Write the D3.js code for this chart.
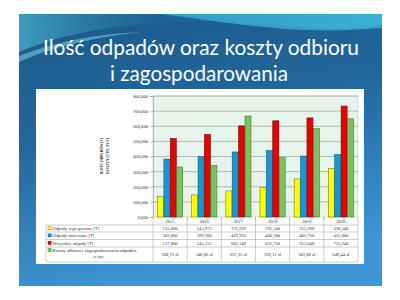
<!DOCTYPE html>
<html>
<head>
<meta charset="utf-8">
<script src="https://cdn.jsdelivr.net/npm/d3@7"></script>
<style>
  html, body { margin: 0; padding: 0; background: #fff; }
  svg { display: block; }
</style>
</head>
<body>
<div id="chart"></div>
<script>
// Chart data
const years = ["2015", "2016", "2017", "2018", "2019", "2020"];
const seriesNames = [
  "Odpady segregowane [T]",
  "Odpady zmieszane [T]",
  "Wszystkie odpady [T]",
  "Koszty odbioru i zagospodarowania odpadów"
];
const segregowane = [135.000, 145.975, 172.229, 195.540, 252.288, 320.540];
const zmieszane = [382.800, 399.180, 429.920, 440.180, 402.760, 412.800];
const wszystkie = [517.800, 545.155, 602.149, 635.720, 655.048, 733.340];
const koszty = [330.73, 340.06, 667.25, 392.11, 583.88, 649.44];
const yTicks = [0, 100, 200, 300, 400, 500, 600, 700, 800];

const colors = ["#ffff00", "#1399d6", "#e60000", "#79c25e"];
const strokes = ["#7d7d00", "#0a5b80", "#7a0000", "#3f7b2f"];

const allSeries = [segregowane, zmieszane, wszystkie, koszty];

const W = 400, H = 300;
const svg = d3.select("#chart").append("svg")
  .attr("width", W).attr("height", H);

const defs = svg.append("defs");
const bg = defs.append("linearGradient").attr("id", "bg")
  .attr("x1", 0).attr("y1", 0).attr("x2", 0.25).attr("y2", 1);
bg.append("stop").attr("offset", "0%").attr("stop-color", "#1b5a89");
bg.append("stop").attr("offset", "45%").attr("stop-color", "#22679b");
bg.append("stop").attr("offset", "100%").attr("stop-color", "#3d95d3");

const sw = defs.append("linearGradient").attr("id", "swoosh")
  .attr("x1", 0).attr("y1", 0).attr("x2", 1).attr("y2", 0);
sw.append("stop").attr("offset", "0%").attr("stop-color", "#5fe0ee").attr("stop-opacity", 0.9);
sw.append("stop").attr("offset", "40%").attr("stop-color", "#2b8fbf").attr("stop-opacity", 0.2);
sw.append("stop").attr("offset", "100%").attr("stop-color", "#3cc4e0").attr("stop-opacity", 0.9);

// Slide
const slide = { x: 19, y: 14, w: 363, h: 272 };
svg.append("rect")
  .attr("x", slide.x).attr("y", slide.y)
  .attr("width", slide.w).attr("height", slide.h)
  .attr("fill", "url(#bg)");

svg.append("clipPath").attr("id", "slideClip")
  .append("rect").attr("x", slide.x).attr("y", slide.y)
  .attr("width", slide.w).attr("height", slide.h);

const deco = svg.append("g").attr("clip-path", "url(#slideClip)");
deco.append("path")
  .attr("d", "M19,52 C70,30 150,18 230,22 C300,26 350,34 382,24 L382,14 L19,14 Z")
  .attr("fill", "url(#swoosh)").attr("opacity", 0.55);
deco.append("path")
  .attr("d", "M160,14 C230,22 290,36 382,28 L382,14 Z")
  .attr("fill", "#45c8e2").attr("opacity", 0.6);
deco.append("path")
  .attr("d", "M19,56 C60,40 100,34 140,32 C90,38 50,48 19,62 Z")
  .attr("fill", "#8ff0f5").attr("opacity", 0.45);

// Title
const title = svg.append("g").attr("fill", "#fff")
  .attr("font-family", "Lato, 'Open Sans', sans-serif")
  .attr("text-anchor", "middle");
title.append("text").attr("x", 201).attr("y", 55)
  .attr("font-size", 22)
  .attr("textLength", 316).attr("lengthAdjust", "spacingAndGlyphs")
  .text("Ilość odpadów oraz koszty odbioru");
title.append("text").attr("x", 199).attr("y", 81)
  .attr("font-size", 22)
  .attr("textLength", 178).attr("lengthAdjust", "spacingAndGlyphs")
  .text("i zagospodarowania");

// White chart box
svg.append("rect")
  .attr("x", 36).attr("y", 89).attr("width", 328).attr("height", 175)
  .attr("fill", "#fff");

// Plot area
const plot = { left: 153, right: 358, top: 96, bottom: 217 };

const x = d3.scaleBand()
  .domain(years)
  .range([plot.left, plot.right])
  .padding(0);

const xInner = d3.scaleBand()
  .domain(d3.range(allSeries.length))
  .range([4.5, x.bandwidth() - 4.5])
  .paddingInner(0.06);

const y = d3.scaleLinear()
  .domain([0, 800])
  .range([plot.bottom, plot.top]);

svg.append("rect")
  .attr("x", plot.left).attr("y", plot.top)
  .attr("width", plot.right - plot.left).attr("height", plot.bottom - plot.top)
  .attr("fill", "#e7f4ec").attr("stroke", "#b9c2bd").attr("stroke-width", 0.5);

const fmt3 = d => d.toFixed(3).replace(".", ",");
const fmt2 = d => d.toFixed(2).replace(".", ",") + " zł";

const yAxis = svg.append("g")
  .attr("transform", "translate(" + plot.left + ",0)")
  .call(d3.axisLeft(y).tickValues(yTicks).tickFormat(fmt3).tickSize(3).tickPadding(2));
yAxis.select(".domain").attr("stroke", "#8a8a8a").attr("stroke-width", 0.5);
yAxis.selectAll(".tick line").attr("stroke", "#8a8a8a").attr("stroke-width", 0.5);
yAxis.selectAll(".tick text")
  .attr("font-family", "'Liberation Serif', serif")
  .attr("font-size", 4.6).attr("fill", "#333");

// gridlines
svg.append("g").selectAll("line")
  .data(yTicks.filter(t => t > 0))
  .enter().append("line")
  .attr("x1", plot.left).attr("x2", plot.right)
  .attr("y1", d => y(d)).attr("y2", d => y(d))
  .attr("stroke", "#8f9591").attr("stroke-width", 0.6);

// vertical separators
svg.append("g").selectAll("line")
  .data(years.slice(1))
  .enter().append("line")
  .attr("x1", d => x(d)).attr("x2", d => x(d))
  .attr("y1", plot.bottom).attr("y2", plot.bottom + 3)
  .attr("stroke", "#8a8a8a").attr("stroke-width", 0.5);

// Bars
allSeries.forEach((values, si) => {
  svg.append("g").selectAll("rect")
    .data(values)
    .enter().append("rect")
    .attr("x", (d, i) => x(years[i]) + xInner(si))
    .attr("y", d => y(d))
    .attr("width", xInner.bandwidth())
    .attr("height", d => plot.bottom - y(d))
    .attr("fill", colors[si])
    .attr("stroke", strokes[si])
    .attr("stroke-width", 0.6);
});

// Axis title
const axTitle = svg.append("g")
  .attr("font-family", "'Liberation Serif', serif")
  .attr("font-weight", "bold")
  .attr("font-size", 4.8)
  .attr("fill", "#333")
  .attr("text-anchor", "middle");
axTitle.append("text")
  .attr("transform", "translate(103,156) rotate(-90)")
  .attr("textLength", 36).attr("lengthAdjust", "spacingAndGlyphs")
  .text("ILOŚĆ ODPADÓW [T]");
axTitle.append("text")
  .attr("transform", "translate(108.5,156) rotate(-90)")
  .attr("textLength", 36).attr("lengthAdjust", "spacingAndGlyphs")
  .text("KOSZTY [TYS. PLN]");

// Data table
const table = { left: 46, headerTop: 217, rowTops: [225, 232, 239.5, 247], bottom: 262 };
const gridColor = "#9a9a9a";
const tbl = svg.append("g")
  .attr("font-family", "'Liberation Serif', serif")
  .attr("font-size", 4.6).attr("fill", "#333");

// header year labels
tbl.selectAll(".year")
  .data(years)
  .enter().append("text")
  .attr("x", d => x(d) + x.bandwidth() / 2)
  .attr("y", 222.8)
  .attr("text-anchor", "middle")
  .text(d => d);

// horizontal lines
const hLines = table.rowTops.concat([table.bottom]);
tbl.selectAll(".hline")
  .data(hLines)
  .enter().append("line")
  .attr("x1", table.left).attr("x2", plot.right)
  .attr("y1", d => d).attr("y2", d => d)
  .attr("stroke", gridColor).attr("stroke-width", 0.5);

// vertical lines
const vLines = [plot.left].concat(years.map(yr => x(yr) + x.bandwidth()));
tbl.selectAll(".vline")
  .data(vLines)
  .enter().append("line")
  .attr("x1", d => d).attr("x2", d => d)
  .attr("y1", (d, i) => (i === 0 ? plot.bottom : table.headerTop))
  .attr("y2", table.bottom)
  .attr("stroke", gridColor).attr("stroke-width", 0.5);
tbl.append("line")
  .attr("x1", table.left).attr("x2", table.left)
  .attr("y1", table.rowTops[0]).attr("y2", table.bottom)
  .attr("stroke", gridColor).attr("stroke-width", 0.5);

// row labels with swatches
const rowMid = [229.8, 237, 244.5];
seriesNames.forEach((name, si) => {
  const ty = si < 3 ? rowMid[si] : 251.5;
  tbl.append("rect")
    .attr("x", 48).attr("y", ty - 3.2)
    .attr("width", 3.2).attr("height", 3.2)
    .attr("fill", colors[si]).attr("stroke", strokes[si]).attr("stroke-width", 0.4);
  tbl.append("text")
    .attr("x", 52.5).attr("y", ty)
    .text(name);
});
tbl.append("text")
  .attr("x", 99).attr("y", 258)
  .attr("text-anchor", "middle")
  .text("w tys.");

// row values
allSeries.forEach((values, si) => {
  tbl.append("g").selectAll("text")
    .data(values)
    .enter().append("text")
    .attr("x", (d, i) => x(years[i]) + x.bandwidth() / 2)
    .attr("y", si < 3 ? rowMid[si] : 255.5)
    .attr("text-anchor", "middle")
    .text(d => (si < 3 ? fmt3(d) : fmt2(d)));
});
</script>
</body>
</html>
